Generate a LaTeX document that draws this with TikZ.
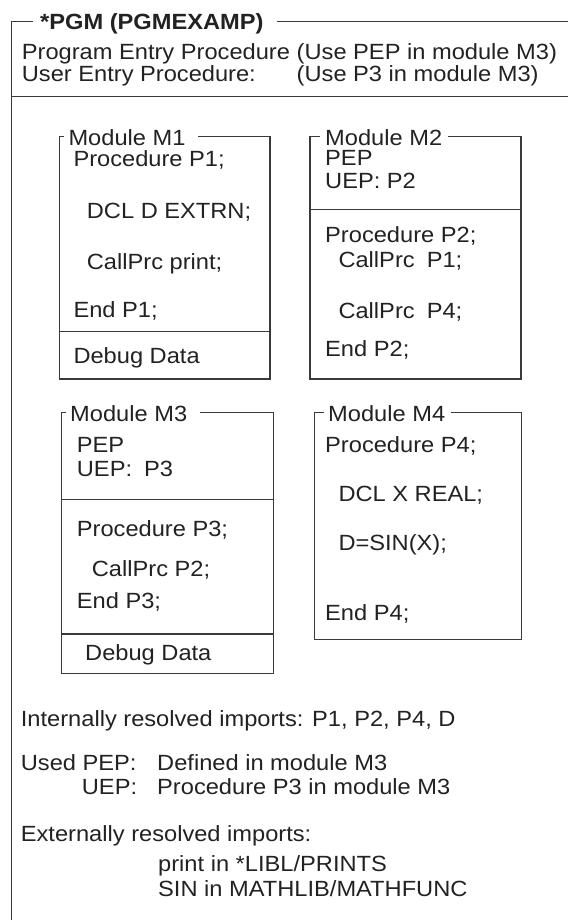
\documentclass[tikz,border=0pt]{standalone}
\usepackage{fontspec}
\setmainfont{Liberation Sans}[FakeStretch=1.075]
\definecolor{ink}{HTML}{222222}
\definecolor{rule}{HTML}{3A3A3A}
\begin{document}
\begin{tikzpicture}[x=1pt,y=-1pt,
  txt/.style={inner sep=0pt,anchor=base west,text=ink,font=\fontsize{22}{26}\selectfont},
  ttl/.style={txt,font=\fontsize{22}{26}\selectfont\bfseries},
  frame/.style={draw=rule,line width=1.4pt},
  boxline/.style={draw=rule,line width=1.1pt}]
\useasboundingbox (0,0) rectangle (568,920);
\fill[white] (0,0) rectangle (568,920);

% ---------- outer frame ----------
\node[ttl] (pgm) at (40,30) {*PGM (PGMEXAMP)};
\draw[frame] (33,21.7) -- (11.7,21.7) -- (11.7,920);
\draw[frame] (276.7,21.7) -- (568,21.7);
\draw[frame] (11.7,96.7) -- (568,96.7);

\node[txt] (h1a) at (21.7,60) {Program Entry Procedure};
\node[txt] (h1b) at ([xshift=6.3pt]h1a.base east) {(Use PEP in module M3)};
\node[txt] (h2a) at (21.7,81.7) {User Entry Procedure:};
\node[txt] (h2b) at (h1b.base west |- h2a.base) {(Use P3 in module M3)};

% ---------- Module M1 ----------
\node[txt] (m1t) at (68.3,145.5) {Module M1};
\draw[boxline] (63.5,136.7) -- (59.3,136.7) -- (59.3,379) -- (270,379) -- (270,136.7) -- (198,136.7);
\draw[boxline] (59.3,331.7) -- (270,331.7);
\node[txt] (m1a) at (73.3,166.5) {Procedure P1;};
\node[txt] (m1b) at (86.7,218) {DCL D EXTRN;};
\node[txt] (m1c) at (86.7,269) {CallPrc print;};
\node[txt] (m1d) at (73.3,317) {End P1;};
\node[txt] (m1e) at (73.3,363) {Debug Data};

% ---------- Module M2 ----------
\node[txt] (m2t) at (325,145.5) {Module M2};
\draw[boxline] (320,136.7) -- (310,136.7) -- (310,379) -- (521,379) -- (521,136.7) -- (448,136.7);
\draw[boxline] (310,209.3) -- (521,209.3);
\node[txt] (m2a) at (325,166) {PEP};
\node[txt] (m2b) at (325,189) {UEP: P2};
\node[txt] (m2c) at (325,242) {Procedure P2;};
\node[txt] (m2d) at (338.3,267) {CallPrc\hspace{0.55em}P1;};
\node[txt] (m2e) at (338.3,318) {CallPrc\hspace{0.55em}P4;};
\node[txt] (m2f) at (325,356) {End P2;};

% ---------- Module M3 ----------
\node[txt] (m3t) at (70,421.7) {Module M3};
\draw[boxline] (66,412.7) -- (61.7,412.7) -- (61.7,673.3) -- (273.8,673.3) -- (273.8,412.7) -- (200,412.7);
\draw[boxline] (61.7,499.3) -- (273.8,499.3);
\draw[boxline] (61.7,634) -- (273.8,634);
\node[txt] (m3a) at (76.7,452) {PEP};
\node[txt] (m3b) at (76.7,476.7) {UEP:\hspace{0.55em}P3};
\node[txt] (m3c) at (76.7,536.7) {Procedure P3;};
\node[txt] (m3d) at (91.7,576.7) {CallPrc P2;};
\node[txt] (m3e) at (76.7,608.3) {End P3;};
\node[txt] (m3f) at (85,660.7) {Debug Data};

% ---------- Module M4 ----------
\node[txt] (m4t) at (328,421.7) {Module M4};
\draw[boxline] (324,412.7) -- (314.5,412.7) -- (314.5,639.3) -- (521.5,639.3) -- (521.5,412.7) -- (451,412.7);
\node[txt] (m4a) at (325,452.5) {Procedure P4;};
\node[txt] (m4b) at (338.3,501.7) {DCL X REAL;};
\node[txt] (m4c) at (338.3,550) {D=SIN(X);};
\node[txt] (m4d) at (325,620) {End P4;};

% ---------- summary ----------
\node[txt] (s1) at (20.7,726) {Internally resolved imports: P1, P2, P4, D};
\node[txt] (s2) at (20.7,770) {Used PEP:};
\node[txt] (s2b) at (157,770) {Defined in module M3};
\node[txt] (s3) at (81.7,794) {UEP:};
\node[txt] (s3b) at (157,794) {Procedure P3 in module M3};
\node[txt] (s4) at (20.7,841.7) {Externally resolved imports:};
\node[txt] (s5) at (158,871.7) {print in *LIBL/PRINTS};
\node[txt] (s6) at (158,896) {SIN in MATHLIB/MATHFUNC};
\end{tikzpicture}
\end{document}
